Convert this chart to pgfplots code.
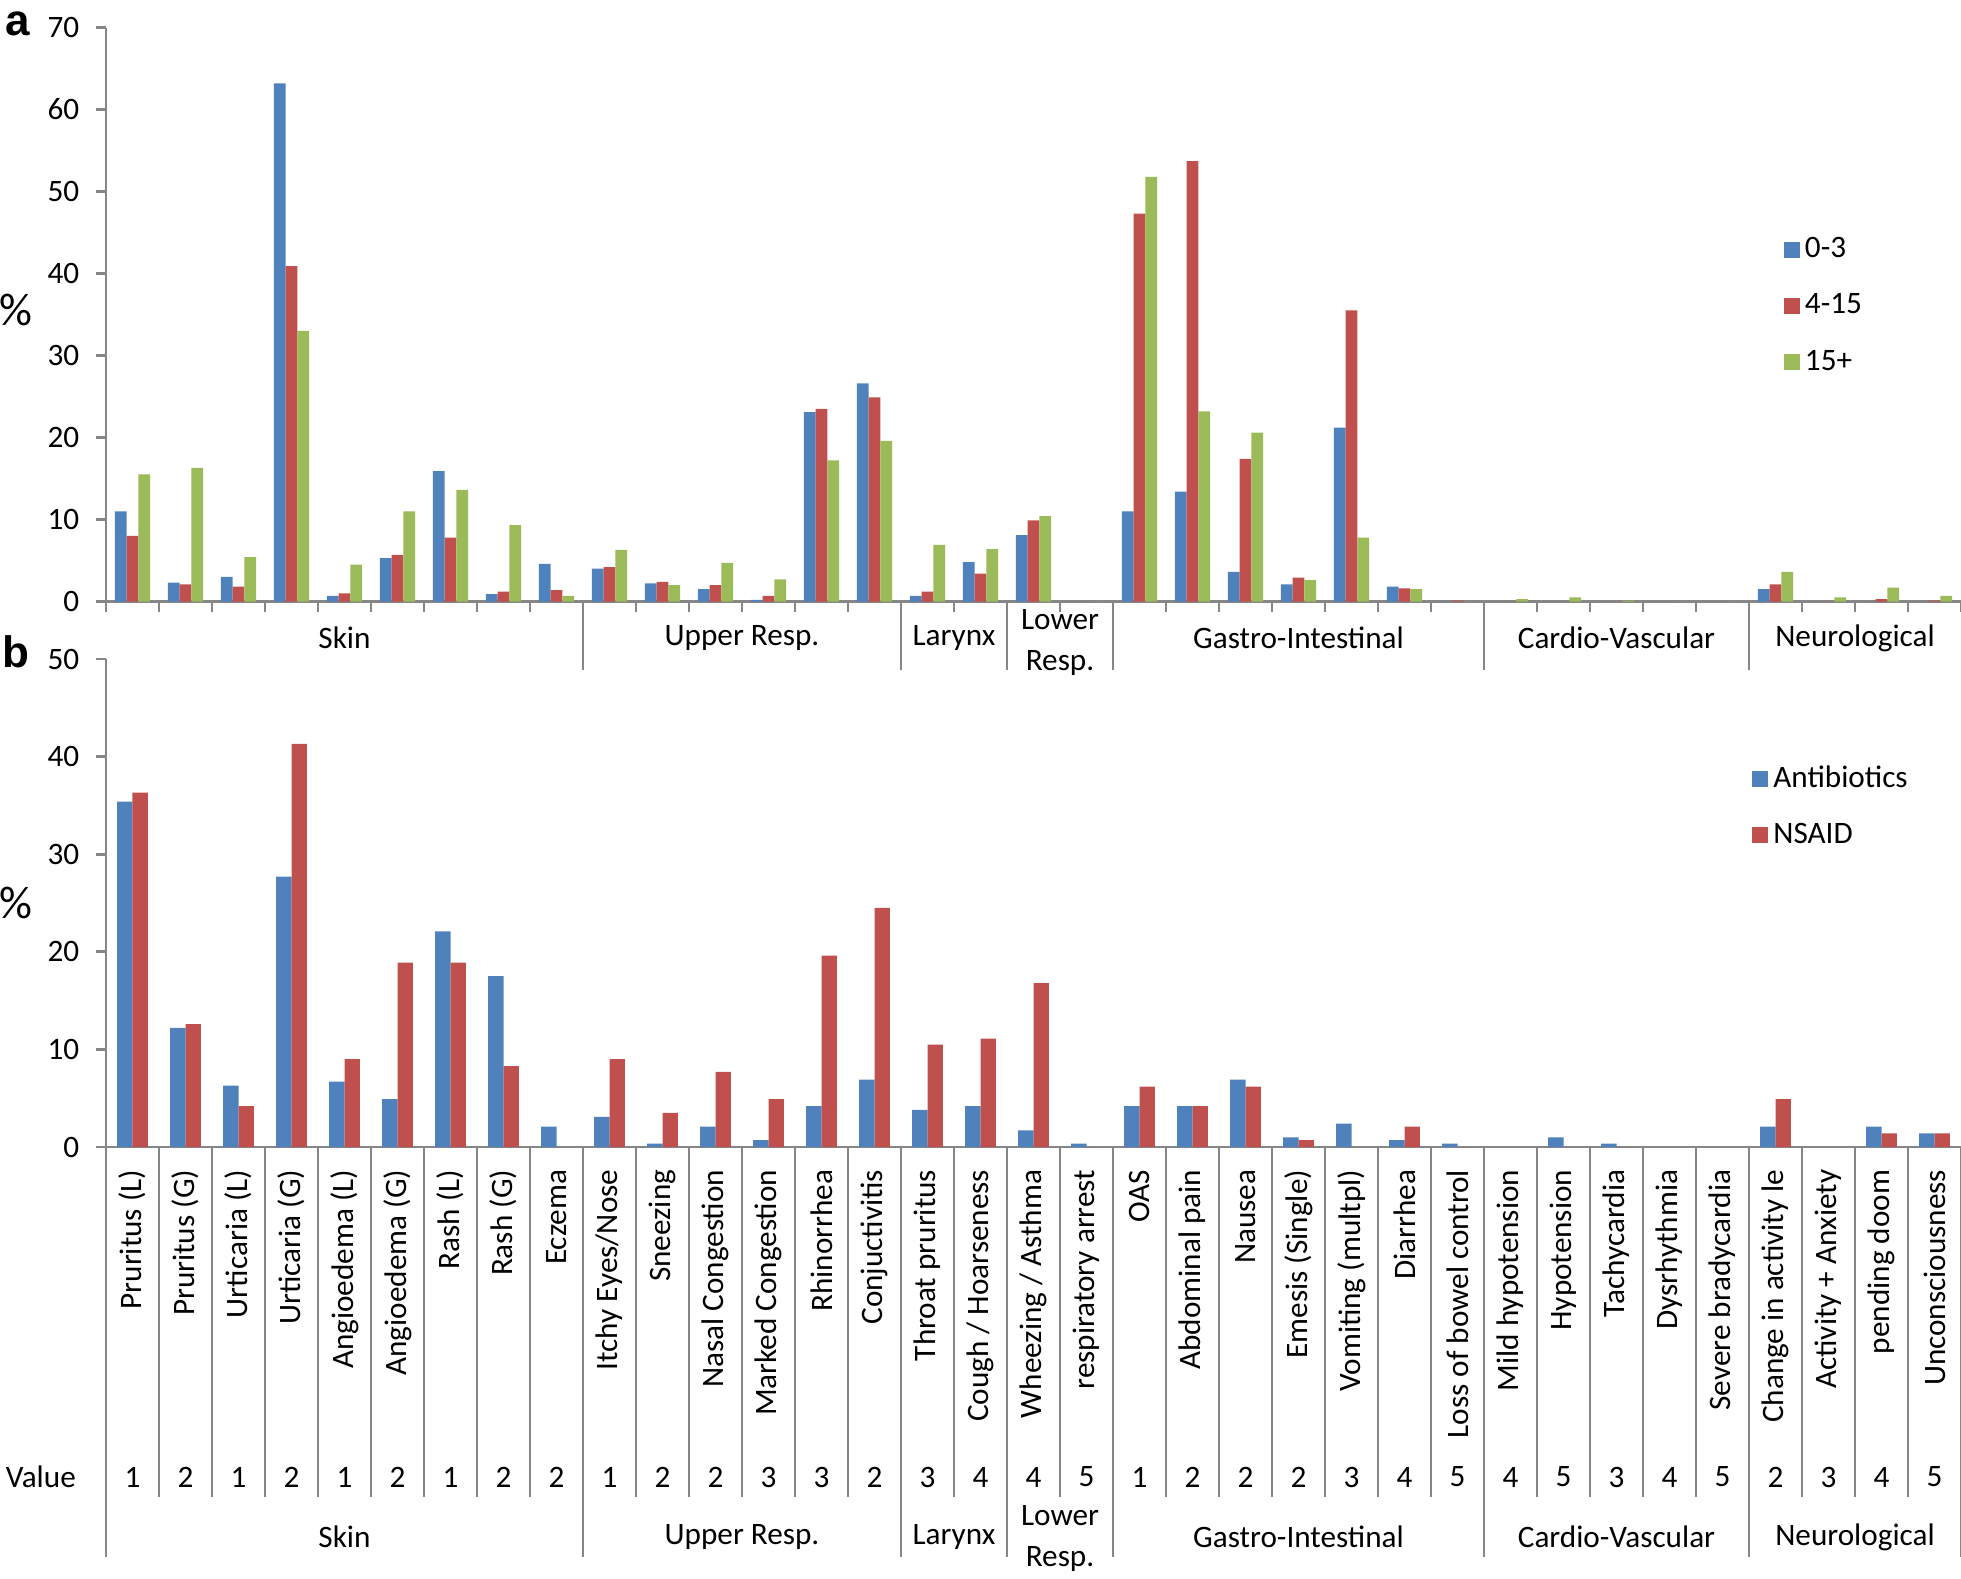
\documentclass[border=0pt]{standalone}
\usepackage{fontspec}
\setmainfont{Carlito}
\newfontfamily\panelfont{Liberation Sans}
\usepackage{pgfplots}
\usepackage{pgfplotstable}
\pgfplotsset{compat=1.18}
\definecolor{cblue}{HTML}{4F81BD}
\definecolor{cred}{HTML}{C0504D}
\definecolor{cgreen}{HTML}{9BBB59}
\definecolor{axgray}{HTML}{868686}
\newcommand\fs{\fontsize{7.8pt}{9.4pt}\selectfont}
\tikzset{gsep/.style={draw=axgray, line width=0.7pt}}

\pgfplotstableread{
x a b c
0 11.0 8.0 15.5
1 2.3 2.1 16.3
2 3.0 1.8 5.4
3 63.2 40.9 33.0
4 0.7 1.0 4.5
5 5.3 5.7 11.0
6 15.9 7.8 13.6
7 0.9 1.2 9.3
8 4.6 1.4 0.7
9 4.0 4.2 6.3
10 2.2 2.4 2.0
11 1.5 2.0 4.7
12 0.2 0.7 2.7
13 23.1 23.5 17.2
14 26.6 24.9 19.6
15 0.7 1.2 6.9
16 4.8 3.4 6.4
17 8.1 9.9 10.4
18 0 0 0
19 11.0 47.3 51.8
20 13.4 53.7 23.2
21 3.6 17.4 20.6
22 2.1 2.9 2.6
23 21.2 35.5 7.8
24 1.8 1.6 1.5
25 0 0.1 0
26 0 0 0.3
27 0 0 0.5
28 0 0 0.1
29 0 0 0
30 0 0 0
31 1.5 2.1 3.6
32 0 0 0.5
33 0 0.3 1.7
34 0 0.1 0.7
}\dataA

\pgfplotstableread{
x ab ns
0 35.4 36.3
1 12.2 12.6
2 6.3 4.2
3 27.7 41.3
4 6.7 9.0
5 4.9 18.9
6 22.1 18.9
7 17.5 8.3
8 2.1 0
9 3.1 9.0
10 0.35 3.5
11 2.1 7.7
12 0.7 4.9
13 4.2 19.6
14 6.9 24.5
15 3.8 10.5
16 4.2 11.1
17 1.7 16.8
18 0.35 0
19 4.2 6.2
20 4.2 4.2
21 6.9 6.2
22 1.0 0.7
23 2.4 0
24 0.7 2.1
25 0.35 0
26 0 0
27 1.0 0
28 0.35 0
29 0 0
30 0 0
31 2.1 4.9
32 0 0
33 2.1 1.4
34 1.4 1.4
}\dataB

\newcommand\valof[1]{\ifcase#1 1\or 2\or 1\or 2\or 1\or 2\or 1\or 2\or 2\or 1\or 2\or 2\or 3\or 3\or 2\or 3\or 4\or 4\or 5\or 1\or 2\or 2\or 2\or 3\or 4\or 5\or 4\or 5\or 3\or 4\or 5\or 2\or 3\or 4\or 5\fi}

\pgfplotsset{
  common/.style={
    scale only axis, width=463.75pt,
    xmin=-0.5, xmax=34.5, ymin=0,
    axis x line=bottom, axis y line=left,
    axis line style={-, draw=axgray, line width=0.7pt},
    tick style={draw=axgray, line width=0.7pt},
    tick align=outside, major tick length=2.5pt,
    xtick={-0.5,0.5,...,34.5},
    x tick label as interval,
    /pgf/number format/assume math mode=true,
    yticklabel style={inner sep=0pt, font=\fs, xshift=-4pt},
    ybar=0pt,
    clip=false,
    enlargelimits=false,
    legend cell align=left,
    legend image code/.code={\fill[##1] (0pt,-2pt) rectangle (4pt,2pt);},
  },
}

\begin{document}
\fs
\begin{tikzpicture}
% ---------------- panel a ----------------
\begin{axis}[common, at={(26.5pt,244.125pt)}, anchor=south west,
  height=143.5pt, ymax=70, ytick={0,10,...,70},
  xticklabels={}, bar width=2.93pt,
  legend style={at={(rel axis cs:0.904,0.648)}, anchor=north west, draw=none, fill=none,
    inner sep=0pt, row sep=4.5pt, font=\fs,
    nodes={inner sep=1.3pt, text height=5.5pt, text depth=1.5pt}},
]
\addplot[fill=cblue, draw=none] table[x=x, y=a] {\dataA};
\addplot[fill=cred, draw=none] table[x=x, y=b] {\dataA};
\addplot[fill=cgreen, draw=none] table[x=x, y=c] {\dataA};
\legend{0-3,4-15,15+}
\pgfplotsinvokeforeach{8.5,14.5,16.5,18.5,25.5,30.5}{\draw[gsep] (axis cs:#1,0) -- ([yshift=-17.1pt]axis cs:#1,0);}
\node[font=\fs] at (axis cs:4,0) [yshift=-9.1pt] {Skin};
\node[font=\fs] at (axis cs:11.5,0) [yshift=-9.1pt] {Upper Resp.};
\node[font=\fs] at (axis cs:15.5,0) [yshift=-9.1pt] {Larynx};
\node[font=\fs] at (axis cs:17.5,0) [yshift=-4.6pt] {Lower};
\node[font=\fs] at (axis cs:17.5,0) [yshift=-15.4pt] {Resp.};
\node[font=\fs] at (axis cs:22,0) [yshift=-9.1pt] {Gastro-Intestinal};
\node[font=\fs] at (axis cs:28,0) [yshift=-9.1pt] {Cardio-Vascular};
\node[font=\fs] at (axis cs:32.5,0) [yshift=-9.1pt] {Neurological};
\end{axis}
% ---------------- panel b ----------------
\begin{axis}[common, at={(26.5pt,107.75pt)}, anchor=south west,
  height=122pt, ymax=50, ytick={0,10,...,50},
  bar width=3.83pt,
  xticklabels={Pruritus (L), Pruritus (G), Urticaria (L), Urticaria (G), Angioedema (L), Angioedema (G), Rash (L), Rash (G), Eczema, Itchy Eyes/Nose, Sneezing, Nasal Congestion, Marked Congestion, Rhinorrhea, Conjuctivitis, Throat pruritus, Cough / Hoarseness, Wheezing / Asthma, respiratory arrest, OAS, Abdominal pain, Nausea, Emesis (Single), Vomiting (multpl), Diarrhea, Loss of bowel control, Mild hypotension, Hypotension, Tachycardia, Dysrhythmia, Severe bradycardia, Change in activity le, Activity + Anxiety, pending doom, Unconsciousness},
  xticklabel style={rotate=90, anchor=east, inner sep=0pt, font=\fs},
  xticklabel shift=3pt,
  legend style={at={(rel axis cs:0.887,0.795)}, anchor=north west, draw=none, fill=none,
    inner sep=0pt, row sep=4.4pt, font=\fs,
    nodes={inner sep=1.3pt, text height=5.5pt, text depth=1.5pt}},
]
\addplot[fill=cblue, draw=none] table[x=x, y=ab] {\dataB};
\addplot[fill=cred, draw=none] table[x=x, y=ns] {\dataB};
\legend{Antibiotics,NSAID}
\pgfplotsinvokeforeach{0.5,1.5,...,33.5}{\draw[gsep] (axis cs:#1,0) -- ([yshift=-87.5pt]axis cs:#1,0);}
\pgfplotsinvokeforeach{-0.5,8.5,14.5,16.5,18.5,25.5,30.5,34.5}{\draw[gsep] (axis cs:#1,0) -- ([yshift=-102.5pt]axis cs:#1,0);}
\pgfplotsinvokeforeach{0,...,34}{\node[font=\fs] at (axis cs:#1,0) [yshift=-82.5pt] {\valof{#1}};}
\node[font=\fs, anchor=east] at (axis cs:-0.5,0) [yshift=-82.5pt, xshift=-4.75pt] {Value};
\node[font=\fs] at (axis cs:4,0) [yshift=-97.5pt] {Skin};
\node[font=\fs] at (axis cs:11.5,0) [yshift=-97.5pt] {Upper Resp.};
\node[font=\fs] at (axis cs:15.5,0) [yshift=-97.5pt] {Larynx};
\node[font=\fs] at (axis cs:17.5,0) [yshift=-92.25pt] {Lower};
\node[font=\fs] at (axis cs:17.5,0) [yshift=-103pt] {Resp.};
\node[font=\fs] at (axis cs:22,0) [yshift=-97.5pt] {Gastro-Intestinal};
\node[font=\fs] at (axis cs:28,0) [yshift=-97.5pt] {Cardio-Vascular};
\node[font=\fs] at (axis cs:32.5,0) [yshift=-97.5pt] {Neurological};
\end{axis}
% ---------------- panel letters and y labels ----------------
\node[font=\panelfont\fontsize{11pt}{13pt}\selectfont\bfseries] at (4.5pt,388.5pt) {a};
\node[font=\panelfont\fontsize{11pt}{13pt}\selectfont\bfseries] at (4pt,231.5pt) {b};
\node[font=\fontsize{11.5pt}{13pt}\selectfont] at (3.9pt,317pt) {\%};
\node[font=\fontsize{11.5pt}{13pt}\selectfont] at (3.9pt,168.75pt) {\%};
\pgfresetboundingbox
\path[use as bounding box] (0,0) rectangle (490.25pt,394.5pt);
\end{tikzpicture}
\end{document}
